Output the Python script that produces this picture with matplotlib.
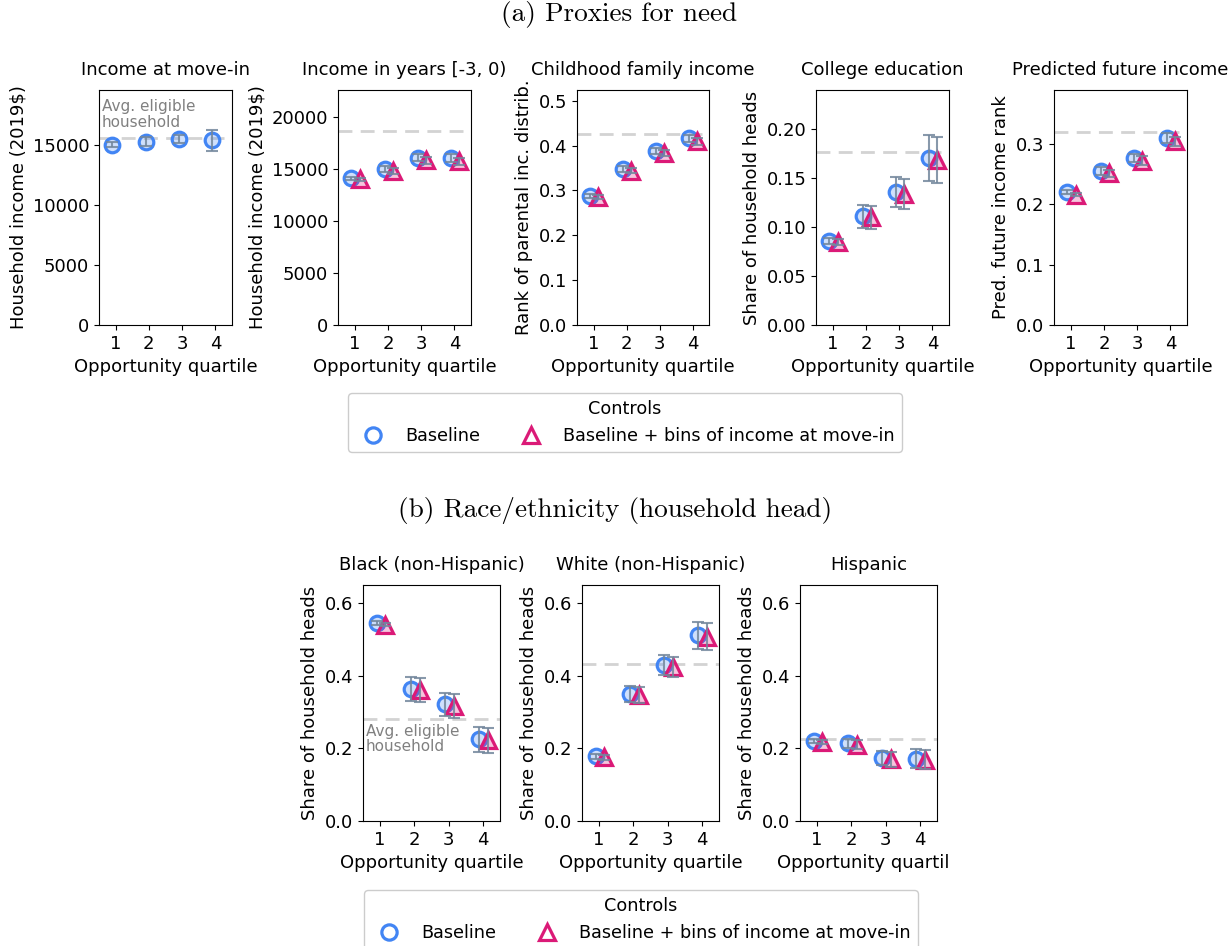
import numpy as np
import matplotlib
matplotlib.use("Agg")
import matplotlib.pyplot as plt
from matplotlib.lines import Line2D
from matplotlib.transforms import Bbox, TransformedBbox

# ---------------- data ----------------
quartiles = [1, 2, 3, 4]

# (a) proxies for need
inc_movein_base = [15050, 15300, 15500, 15400]
inc_movein_err = [200, 350, 350, 850]
inc_movein_avg = 15600

inc_pre_base = [14100, 15000, 16100, 16050]
inc_pre_bins = [14000, 14800, 15850, 15750]
inc_pre_err = [150, 300, 350, 350]
inc_pre_avg = 18650

parent_rank_base = [0.288, 0.348, 0.388, 0.416]
parent_rank_bins = [0.285, 0.344, 0.383, 0.410]
parent_rank_err = [0.004, 0.006, 0.007, 0.008]
parent_rank_avg = 0.425

college_base = [0.086, 0.111, 0.136, 0.171]
college_bins = [0.085, 0.110, 0.134, 0.169]
college_err = [0.003, 0.0115, 0.0155, 0.0235]
college_avg = 0.177

pred_rank_base = [0.220, 0.255, 0.276, 0.309]
pred_rank_bins = [0.216, 0.251, 0.272, 0.304]
pred_rank_err = [0.003, 0.006, 0.007, 0.008]
pred_rank_avg = 0.320

# (b) race/ethnicity of household head
black_base = [0.545, 0.363, 0.321, 0.225]
black_bins = [0.541, 0.360, 0.317, 0.222]
black_err = [0.005, 0.033, 0.032, 0.035]
black_avg = 0.280

white_base = [0.178, 0.350, 0.429, 0.512]
white_bins = [0.175, 0.346, 0.424, 0.507]
white_err = [0.006, 0.022, 0.028, 0.037]
white_avg = 0.432

hisp_base = [0.220, 0.214, 0.174, 0.172]
hisp_bins = [0.218, 0.210, 0.170, 0.169]
hisp_err = [0.006, 0.012, 0.020, 0.026]
hisp_avg = 0.227

# ---------------- style ----------------
BLUE = "#4285f4"
BLUE_FILL = (0.26, 0.52, 0.96, 0.25)
PINK = "#db1a77"
PINK_FILL = (0.86, 0.10, 0.47, 0.25)
ERR = (0.45, 0.53, 0.61, 0.85)
AVG_GREY = "#d3d3d3"
FS = 13

plt.rcParams.update({
    "font.size": FS,
    "axes.titlesize": FS,
    "axes.titlepad": 11,
    "axes.labelsize": FS,
    "xtick.labelsize": FS,
    "ytick.labelsize": FS,
    "legend.fontsize": 12.7,
    "legend.title_fontsize": 12.7,
})

W, H = 1232, 946
fig = plt.figure(figsize=(W / 100, H / 100), dpi=100)


def px_axes(left, top, right, bottom):
    return fig.add_axes([left / W, 1 - bottom / H, (right - left) / W, (bottom - top) / H])


def draw_panel(ax, title, ylabel, base, bins, err, avg, ylim, yticks):
    x = np.array(quartiles, dtype=float)
    ax.axhline(avg, color=AVG_GREY, ls=(0, (5, 3)), lw=2, zorder=1)
    ax.plot(x - 0.1, base, ls="none", marker="o", ms=10.5, mew=2.3,
            mec=BLUE, mfc=BLUE_FILL, zorder=3)
    ax.errorbar(x - 0.1, base, yerr=err, fmt="none", ecolor=ERR,
                elinewidth=1.5, capsize=4, capthick=1.5, zorder=5)
    if bins is not None:
        ax.plot(x + 0.15, bins, ls="none", marker="^", ms=11.5, mew=2.3,
                mec=PINK, mfc=PINK_FILL, zorder=4)
        ax.errorbar(x + 0.15, bins, yerr=err, fmt="none", ecolor=ERR,
                    elinewidth=1.5, capsize=4, capthick=1.5, zorder=5)
    ax.set_xlim(0.5, 4.5)
    ax.set_xticks(quartiles)
    ax.set_ylim(*ylim)
    ax.set_yticks(yticks)
    ax.set_title(title)
    ax.set_ylabel(ylabel)
    ax.set_xlabel("Opportunity quartile")


# ---- row (a) ----
top, bot = 90, 325
ax1 = px_axes(99, top, 232, bot)
draw_panel(ax1, "Income at move-in", "Household income (2019\\$)",
           inc_movein_base, None, inc_movein_err, inc_movein_avg,
           (0, 19600), [0, 5000, 10000, 15000])
ax1.text(0.58, inc_movein_avg + 700, "Avg. eligible\nhousehold", color="grey",
         fontsize=11, ha="left", va="bottom", linespacing=1.05)

ax2 = px_axes(338, top, 471, bot)
draw_panel(ax2, "Income in years [-3, 0)", "Household income (2019\\$)",
           inc_pre_base, inc_pre_bins, inc_pre_err, inc_pre_avg,
           (0, 22600), [0, 5000, 10000, 15000, 20000])

ax3 = px_axes(577, top, 709, bot)
draw_panel(ax3, "Childhood family income", "Rank of parental inc. distrib.",
           parent_rank_base, parent_rank_bins, parent_rank_err, parent_rank_avg,
           (0, 0.524), [0, 0.1, 0.2, 0.3, 0.4, 0.5])

ax4 = px_axes(816, top, 949, bot)
draw_panel(ax4, "College education", "Share of household heads",
           college_base, college_bins, college_err, college_avg,
           (0, 0.24), [0, 0.05, 0.10, 0.15, 0.20])
ax4.set_yticklabels(["0.00", "0.05", "0.10", "0.15", "0.20"])

ax5 = px_axes(1054, top, 1187, bot)
draw_panel(ax5, "Predicted future income", "Pred. future income rank",
           pred_rank_base, pred_rank_bins, pred_rank_err, pred_rank_avg,
           (0, 0.389), [0, 0.1, 0.2, 0.3])

# ---- row (b) ----
top, bot = 585, 821
share_ticks = [0, 0.2, 0.4, 0.6]
bx1 = px_axes(363, top, 500, bot)
draw_panel(bx1, "Black (non-Hispanic)", "Share of household heads",
           black_base, black_bins, black_err, black_avg, (0, 0.65), share_ticks)
bx1.text(0.58, black_avg - 0.012, "Avg. eligible\nhousehold", color="grey",
         fontsize=11, ha="left", va="top", linespacing=1.05)

bx2 = px_axes(582, top, 719, bot)
draw_panel(bx2, "White (non-Hispanic)", "Share of household heads",
           white_base, white_bins, white_err, white_avg, (0, 0.65), share_ticks)

bx3 = px_axes(800, top, 937, bot)
draw_panel(bx3, "Hispanic", "Share of household heads",
           hisp_base, hisp_bins, hisp_err, hisp_avg, (0, 0.65), share_ticks)
# the lower block is cut just right of its last panel
clip = TransformedBbox(Bbox([[0, 0], [948 / W, 1]]), fig.transFigure)
bx3.xaxis.label.set_clip_box(clip)
bx3.xaxis.label.set_clip_on(True)

# ---- section headings ----
fig.text(619 / W, 1 - 14 / H, "(a) Proxies for need", family="cmr10",
         fontsize=19.6, ha="center", va="center")
fig.text(615 / W, 1 - 510 / H, "(b) Race/ethnicity (household head)", family="cmr10",
         fontsize=19.6, ha="center", va="center")

# ---- legends ----
handles = [
    Line2D([], [], ls="none", marker="o", ms=11, mew=2.3, mec=BLUE, mfc="none"),
    Line2D([], [], ls="none", marker="^", ms=11, mew=2.3, mec=PINK, mfc="none"),
]
labels = ["Baseline", "Baseline + bins of income at move-in"]
for cx, ty in [(625, 393), (641, 890)]:
    fig.legend(handles, labels, title="Controls", ncol=2, loc="upper center",
               bbox_to_anchor=(cx / W, 1 - ty / H), borderaxespad=0,
               columnspacing=1.9, handletextpad=0.8, framealpha=1,
               edgecolor="0.8")

fig.savefig("out.png", dpi=100)
